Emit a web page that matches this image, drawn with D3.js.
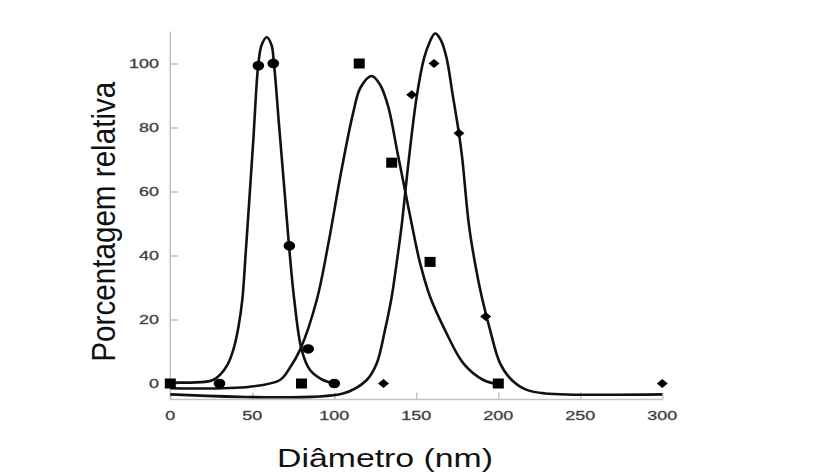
<!DOCTYPE html>
<html>
<head>
<meta charset="utf-8">
<script src="https://cdn.jsdelivr.net/npm/d3@7"></script>
<style>
  body { margin: 0; background: #fff; }
  svg { display: block; font-family: "Liberation Sans", Arial, sans-serif; }
</style>
</head>
<body>
<div id="chart"></div>
<script>
// Measured points (diameter nm, relative %)
const circleX = [30, 53.7, 62.8, 72.6, 84.1, 100]
const circleY = [0, 99.3, 100, 43, 10.8, 0]
const squareX = [0, 80, 115.2, 135, 158.4, 200]
const squareY = [0, 0, 100, 69, 38, 0]
const diamondX = [130, 147.2, 160.8, 176, 192.3, 300]
const diamondY = [0, 90.2, 100, 78.2, 20.9, 0]

// Fitted curves
const circleFitX = [0, 21, 26, 30.3, 35, 38.4, 41.5, 43.9, 46, 48, 50.6, 53.7, 55.7, 58.8, 61.7, 63.2, 66.3, 68.7, 70.5, 72.4, 75.6, 80.1, 85.2, 93.1, 100]
const circleFitY = [0.3, 0.5, 1.1, 2.7, 6, 10.5, 17.5, 26.1, 41, 56, 76, 100, 105.8, 108.2, 105.8, 100, 80.8, 66, 54.8, 43, 26.1, 10.5, 4.2, 1.1, 0.1]
const squareFitX = [0, 48.6, 66.9, 73, 79.1, 89.3, 96.3, 104.5, 111.6, 116, 122.8, 128, 132.9, 138.4, 143.5, 149.2, 152.3, 158.4, 167.5, 178.7, 190.9, 200]
const squareFitY = [-1.5, -1.0, 1.1, 5, 10.5, 26.1, 43.5, 67, 84.8, 92.5, 96.1, 93.3, 86.5, 72.5, 59.4, 44.8, 37.6, 27.1, 16.7, 6.3, 1.1, -0.2]
const diamondFitX = [0, 105.3, 119.8, 125.9, 130.9, 135, 138, 141.1, 145.1, 150.2, 154.7, 158, 161.4, 165, 168.5, 172.2, 176, 178, 182.1, 185.8, 189.9, 195, 201.1, 208.2, 217.3, 228.5, 300]
const diamondFitY = [-3.4, -3.1, 1.1, 6.3, 16.7, 27.1, 37.6, 49.5, 68.5, 89.5, 101.6, 106.5, 109.4, 107.3, 101.6, 90.2, 78.2, 70.4, 49.5, 37.6, 27.1, 16.7, 6.3, 1.1, -2.0, -3.1, -3.4]

const xTicks = [0, 50, 100, 150, 200, 250, 300]
const yTicks = [0, 20, 40, 60, 80, 100]

const W = 829, H = 475

const svg = d3.select("#chart").append("svg")
    .attr("width", W).attr("height", H)

const x = d3.scaleLinear().domain([0, 300]).range([170.3, 662.3])
const y = d3.scaleLinear().domain([-5, 110]).range([399.5, 31.5])

const axisColor = "#c4c4c4"

// y axis
const gy = svg.append("g").attr("transform", `translate(${x(0)},0)`)
    .call(d3.axisRight(y).tickValues(yTicks).tickSize(8).tickFormat(""))
gy.select(".domain").remove()
gy.selectAll(".tick line").attr("stroke", axisColor).attr("stroke-width", 1.5)
svg.append("line")
    .attr("x1", x(0)).attr("x2", x(0))
    .attr("y1", y(110)).attr("y2", y(-5))
    .attr("stroke", axisColor).attr("stroke-width", 1.5)

// x axis
const gx = svg.append("g").attr("transform", `translate(0,${y(-5)})`)
    .call(d3.axisTop(x).tickValues(xTicks).tickSize(7).tickFormat(""))
gx.select(".domain").remove()
gx.selectAll(".tick line").attr("stroke", axisColor).attr("stroke-width", 1.5)
svg.append("line")
    .attr("x1", x(0)).attr("x2", x(300))
    .attr("y1", y(-5)).attr("y2", y(-5))
    .attr("stroke", axisColor).attr("stroke-width", 1.5)

// tick labels, stretched sideways like the picture
function stretch(sel, k) {
    sel.each(function () {
        const w = this.getComputedTextLength()
        d3.select(this).attr("textLength", w * k).attr("lengthAdjust", "spacingAndGlyphs")
    })
}

svg.append("g").selectAll("text")
    .data(yTicks).join("text")
    .attr("x", 159).attr("y", d => y(d) + 4.8)
    .attr("text-anchor", "end")
    .attr("font-size", 13)
    .attr("fill", "#333")
    .attr("stroke", "#555").attr("stroke-width", 0.35)
    .text(d => d)
    .call(stretch, 1.38)

svg.append("g").selectAll("text")
    .data(xTicks).join("text")
    .attr("x", d => x(d)).attr("y", 420)
    .attr("text-anchor", "middle")
    .attr("font-size", 13)
    .attr("fill", "#333")
    .attr("stroke", "#555").attr("stroke-width", 0.35)
    .text(d => d)
    .call(stretch, 1.38)

// axis titles
svg.append("text")
    .attr("x", 385).attr("y", 466.5)
    .attr("text-anchor", "middle")
    .attr("font-size", 26)
    .attr("fill", "#111")
    .attr("textLength", 216).attr("lengthAdjust", "spacingAndGlyphs")
    .text("Diâmetro (nm)")

svg.append("text")
    .attr("transform", "translate(115,221.7) rotate(-90)")
    .attr("text-anchor", "middle")
    .attr("font-size", 34)
    .attr("fill", "#111")
    .attr("textLength", 280).attr("lengthAdjust", "spacingAndGlyphs")
    .text("Porcentagem relativa")

// fitted curves
const line = d3.line().curve(d3.curveCatmullRom.alpha(0.5)).x(d => x(d[0])).y(d => y(d[1]))
const fits = [
    d3.zip(circleFitX, circleFitY),
    d3.zip(squareFitX, squareFitY),
    d3.zip(diamondFitX, diamondFitY)
]
svg.append("g").selectAll("path")
    .data(fits).join("path")
    .attr("fill", "none")
    .attr("stroke", "#111")
    .attr("stroke-width", 2.6)
    .attr("d", line)

// markers
svg.append("g").selectAll("ellipse")
    .data(d3.zip(circleX, circleY)).join("ellipse")
    .attr("cx", d => x(d[0])).attr("cy", d => y(d[1]))
    .attr("rx", 5.8).attr("ry", 4.8)
    .attr("fill", "#000")

svg.append("g").selectAll("rect")
    .data(d3.zip(squareX, squareY)).join("rect")
    .attr("x", d => x(d[0]) - 5.5).attr("y", d => y(d[1]) - 5)
    .attr("width", 11).attr("height", 10)
    .attr("fill", "#000")

svg.append("g").selectAll("path")
    .data(d3.zip(diamondX, diamondY)).join("path")
    .attr("transform", d => `translate(${x(d[0])},${y(d[1])})`)
    .attr("d", "M-5.5,0L0,-4.5L5.5,0L0,4.5Z")
    .attr("fill", "#000")
</script>
</body>
</html>
